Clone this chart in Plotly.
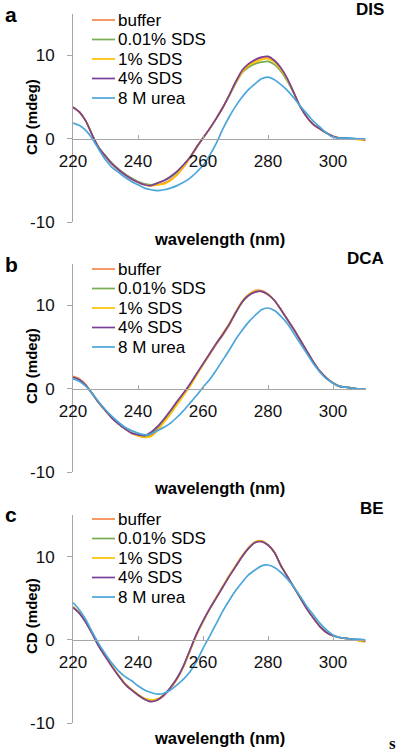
import plotly.graph_objects as go

# ---------------- data ----------------
wavelength = list(range(220, 312, 2))  # nm, 220..310

series_names = ["buffer", "0.01% SDS", "1% SDS", "4% SDS", "8 M urea"]
series_colors = ["#F4874B", "#77AC52", "#FFC000", "#7B3F98", "#4BA6DB"]

# Panel a: DIS
dis_buffer = [3.8, 3.2, 2.1, 0.4, -1.1, -2.1, -3.0, -3.7, -4.3, -4.8, -5.2, -5.5, -5.6, -5.5, -5.3, -4.9,
              -4.3, -3.4, -2.3, -1.1, 0.1, 1.2, 2.4, 3.7, 5.2, 6.8, 8.1, 8.9, 9.4, 9.7, 9.8, 9.3,
              8.4, 7.1, 5.5, 3.8, 2.6, 1.7, 1.2, 0.7, 0.3, 0.1, 0.1, 0.0, 0.0, -0.1]
dis_sds001 = [3.8, 3.2, 2.1, 0.4, -1.1, -2.0, -2.9, -3.6, -4.2, -4.7, -5.1, -5.4, -5.5, -5.3, -5.0, -4.6,
              -4.0, -3.2, -2.2, -1.0, 0.1, 1.2, 2.4, 3.7, 5.1, 6.6, 7.9, 8.6, 9.0, 9.2, 9.3, 8.9,
              8.1, 6.9, 5.4, 3.8, 2.6, 1.7, 1.2, 0.7, 0.3, 0.1, 0.1, 0.0, 0.0, -0.1]
dis_sds1 = [3.8, 3.2, 2.1, 0.4, -1.1, -2.1, -3.0, -3.7, -4.3, -4.8, -5.2, -5.5, -5.6, -5.5, -5.4, -5.0,
            -4.3, -3.3, -2.2, -1.0, 0.1, 1.2, 2.4, 3.7, 5.2, 6.7, 8.0, 8.8, 9.2, 9.5, 9.6, 9.2,
            8.3, 7.1, 5.5, 3.8, 2.6, 1.7, 1.2, 0.7, 0.3, 0.1, 0.0, 0.0, -0.1, -0.2]
dis_sds4 = [3.8, 3.2, 2.1, 0.4, -1.1, -2.1, -3.0, -3.7, -4.3, -4.8, -5.2, -5.5, -5.6, -5.3, -5.0, -4.5,
            -3.9, -3.1, -2.2, -1.0, 0.1, 1.2, 2.4, 3.7, 5.2, 6.8, 8.2, 9.0, 9.5, 9.8, 9.9, 9.4,
            8.5, 7.2, 5.5, 3.8, 2.6, 1.7, 1.2, 0.7, 0.3, 0.1, 0.1, 0.0, 0.0, -0.1]
dis_urea = [1.9, 1.6, 1.0, 0.0, -1.3, -2.5, -3.4, -4.0, -4.6, -5.1, -5.5, -5.9, -6.1, -6.2, -6.1, -5.9,
            -5.6, -5.2, -4.7, -4.0, -3.2, -2.0, -0.6, 1.1, 2.6, 3.9, 5.0, 5.9, 6.6, 7.2, 7.4, 7.1,
            6.5, 5.8, 4.9, 3.9, 3.0, 2.1, 1.4, 0.7, 0.2, 0.1, 0.1, 0.1, 0.0, 0.0]

# Panel b: DCA
dca_buffer = [1.5, 1.2, 0.5, -0.6, -1.7, -2.6, -3.5, -4.2, -4.8, -5.3, -5.6, -5.8, -5.6, -4.8, -3.8, -2.8,
              -1.7, -0.7, 0.4, 1.7, 2.9, 4.1, 5.3, 6.4, 7.6, 9.1, 10.4, 11.3, 11.8, 11.8, 11.4, 10.6,
              9.5, 8.3, 7.1, 5.8, 4.5, 3.2, 2.1, 1.3, 0.7, 0.3, 0.2, 0.1, 0.0, 0.0]
dca_sds001 = [1.4, 1.1, 0.4, -0.6, -1.7, -2.6, -3.5, -4.2, -4.8, -5.3, -5.5, -5.7, -5.4, -4.6, -3.7, -2.7,
              -1.6, -0.6, 0.5, 1.8, 3.0, 4.2, 5.4, 6.5, 7.7, 9.1, 10.4, 11.2, 11.6, 11.7, 11.3, 10.6,
              9.5, 8.3, 7.1, 5.8, 4.5, 3.2, 2.1, 1.3, 0.7, 0.3, 0.2, 0.1, 0.0, 0.0]
dca_sds1 = [1.4, 1.1, 0.4, -0.6, -1.7, -2.6, -3.5, -4.2, -4.8, -5.3, -5.6, -5.8, -5.7, -5.0, -4.0, -3.0,
            -1.9, -0.8, 0.3, 1.6, 2.9, 4.2, 5.4, 6.6, 7.8, 9.2, 10.5, 11.3, 11.7, 11.7, 11.3, 10.6,
            9.5, 8.3, 7.1, 5.8, 4.5, 3.2, 2.1, 1.3, 0.7, 0.3, 0.2, 0.1, 0.0, 0.0]
dca_sds4 = [1.4, 1.1, 0.4, -0.6, -1.7, -2.6, -3.5, -4.2, -4.8, -5.3, -5.5, -5.6, -5.2, -4.5, -3.6, -2.6,
            -1.5, -0.5, 0.6, 1.8, 3.0, 4.2, 5.4, 6.5, 7.7, 9.1, 10.4, 11.2, 11.6, 11.7, 11.3, 10.6,
            9.5, 8.3, 7.1, 5.8, 4.5, 3.2, 2.1, 1.3, 0.7, 0.3, 0.2, 0.1, 0.0, 0.0]
dca_urea = [1.2, 0.9, 0.3, -0.6, -1.6, -2.5, -3.3, -4.0, -4.6, -5.0, -5.3, -5.5, -5.4, -5.0, -4.6, -4.1,
            -3.4, -2.6, -1.7, -0.8, 0.2, 1.1, 2.2, 3.4, 4.6, 5.9, 7.0, 8.0, 8.8, 9.5, 9.7, 9.4,
            8.7, 7.8, 6.6, 5.4, 4.2, 3.0, 2.0, 1.2, 0.7, 0.3, 0.2, 0.1, 0.0, 0.0]

# Panel c: BE
be_buffer = [3.9, 3.2, 2.1, 0.7, -0.8, -2.0, -3.2, -4.3, -5.3, -6.0, -6.6, -7.1, -7.3, -7.2, -6.7, -5.8,
             -4.7, -3.2, -1.3, 0.6, 2.2, 3.7, 5.0, 6.3, 7.6, 8.8, 10.0, 11.0, 11.7, 11.8, 11.4, 10.5,
             8.9, 7.6, 6.3, 5.0, 3.7, 2.6, 1.6, 0.9, 0.5, 0.3, 0.2, 0.1, -0.1, -0.2]
be_sds001 = [3.9, 3.2, 2.1, 0.7, -0.8, -2.0, -3.2, -4.3, -5.3, -6.0, -6.6, -7.1, -7.3, -7.1, -6.6, -5.7,
             -4.6, -3.1, -1.2, 0.7, 2.2, 3.7, 5.0, 6.3, 7.6, 8.8, 10.0, 11.0, 11.7, 11.9, 11.4, 10.5,
             8.9, 7.6, 6.3, 5.0, 3.7, 2.6, 1.6, 0.9, 0.5, 0.3, 0.2, 0.1, 0.0, 0.0]
be_sds1 = [4.0, 3.3, 2.2, 0.8, -0.7, -1.9, -3.1, -4.2, -5.2, -5.9, -6.5, -7.0, -7.2, -7.1, -6.6, -5.8,
           -4.7, -3.2, -1.3, 0.6, 2.2, 3.7, 5.1, 6.4, 7.7, 8.9, 10.1, 11.1, 11.8, 11.9, 11.4, 10.5,
           8.9, 7.6, 6.3, 5.0, 3.7, 2.6, 1.6, 0.9, 0.5, 0.3, 0.2, 0.1, -0.1, -0.2]
be_sds4 = [3.9, 3.2, 2.1, 0.7, -0.8, -2.0, -3.2, -4.3, -5.3, -6.0, -6.6, -7.1, -7.4, -7.2, -6.6, -5.7,
           -4.6, -3.1, -1.2, 0.7, 2.3, 3.7, 5.0, 6.3, 7.6, 8.8, 10.0, 11.0, 11.7, 11.8, 11.4, 10.5,
           8.9, 7.6, 6.3, 5.0, 3.7, 2.6, 1.6, 0.9, 0.5, 0.3, 0.2, 0.1, 0.0, -0.1]
be_urea = [4.5, 3.6, 2.4, 0.9, -0.5, -1.7, -2.8, -3.7, -4.4, -4.9, -5.5, -6.0, -6.3, -6.5, -6.4, -6.0,
           -5.4, -4.7, -3.8, -2.6, -1.0, 0.4, 1.9, 3.4, 4.7, 5.9, 6.9, 7.8, 8.4, 8.9, 9.0, 8.7,
           8.1, 7.3, 6.3, 5.2, 4.0, 3.0, 2.0, 1.2, 0.6, 0.3, 0.2, 0.1, 0.1, 0.0]

panel_letters = ["a", "b", "c"]
panel_titles = ["DIS", "DCA", "BE"]
panel_series = [
    [dis_buffer, dis_sds001, dis_sds1, dis_sds4, dis_urea],
    [dca_buffer, dca_sds001, dca_sds1, dca_sds4, dca_urea],
    [be_buffer, be_sds001, be_sds1, be_sds4, be_urea],
]
x_ticks = [220, 240, 260, 280, 300]
y_ticks = [-10, 0, 10]
y_tick_labels = ["-10", "0", "10"]
x_range = [220, 310]
y_range = [-10, 15]
x_title = "wavelength (nm)"
y_title = "CD (mdeg)"

# ---------------- layout geometry (pixels) ----------------
W, H = 400, 755
plot_left_px, plot_right_px = 73, 365.5
panel_px = [(13.8, 222.3), (263.8, 472.3), (515.0, 723.3)]  # (top, bottom)
panel_off = [0, 249, 499]
FONT = "Liberation Sans, Arial, sans-serif"
AXIS_COLOR = "#A6A6A6"
TEXT_COLOR = "#111111"

def fy(px):
    return 1 - px / H

def fx(px):
    return px / W

fig = go.Figure()
layout = dict(
    width=W, height=H,
    margin=dict(l=0, r=0, t=0, b=0),
    paper_bgcolor="white", plot_bgcolor="white",
    font=dict(family=FONT, size=17, color=TEXT_COLOR),
    showlegend=False,
    annotations=[], shapes=[],
)

for i in range(3):
    k = "" if i == 0 else str(i + 1)
    xa, ya = "x" + k, "y" + k
    top, bot = panel_px[i]
    off = panel_off[i]
    dom_y = [fy(bot), fy(top)]
    zero_pos = dom_y[0] + (0 - y_range[0]) / (y_range[1] - y_range[0]) * (dom_y[1] - dom_y[0])

    for j, (name, color, vals) in enumerate(zip(series_names, series_colors, panel_series[i])):
        fig.add_trace(go.Scatter(
            x=wavelength, y=vals, mode="lines", name=name,
            line=dict(color=color, width=1.7, shape="spline", smoothing=0.6),
            xaxis=xa, yaxis=ya, showlegend=False,
        ))
        # legend entry (sample line + label)
        row_y = fy(20 + 19.5 * j + off)
        layout["shapes"].append(dict(
            type="line", xref="paper", yref="paper",
            x0=fx(92), x1=fx(115), y0=row_y, y1=row_y,
            line=dict(color=color, width=1.7)))
        layout["annotations"].append(dict(
            text=name, x=fx(116), y=row_y, xref="paper", yref="paper",
            showarrow=False, xanchor="left", yanchor="middle",
            font=dict(family=FONT, size=17, color="#000000")))

    layout["xaxis" + k] = dict(
        domain=[fx(plot_left_px), fx(plot_right_px)],
        range=x_range, anchor="free", position=zero_pos,
        tickvals=x_ticks, ticks="inside", ticklen=4, tickcolor=AXIS_COLOR,
        showline=True, linecolor=AXIS_COLOR, linewidth=1,
        showgrid=False, zeroline=False, automargin=False,
        tickfont=dict(size=17, color=TEXT_COLOR), ticklabelstandoff=7,
    )
    layout["yaxis" + k] = dict(
        domain=dom_y, range=y_range, anchor=xa,
        tickvals=y_ticks, ticktext=y_tick_labels, ticks="outside", ticklen=5, tickcolor=AXIS_COLOR,
        showline=True, linecolor=AXIS_COLOR, linewidth=1,
        showgrid=False, zeroline=False, automargin=False,
        tickfont=dict(size=17, color=TEXT_COLOR), ticklabelstandoff=9,
    )
    layout["annotations"] += [
        dict(text="<b>%s</b>" % panel_letters[i], x=fx(11), y=fy(15 + off),
             xref="paper", yref="paper", showarrow=False,
             font=dict(size=21, color="#000000", family=FONT), xanchor="center", yanchor="middle"),
        dict(text="<b>%s</b>" % panel_titles[i], x=fx(386), y=fy(10 + off),
             xref="paper", yref="paper", showarrow=False,
             font=dict(size=17, color="#000000", family=FONT), xanchor="right", yanchor="middle"),
        dict(text="<b>%s</b>" % y_title, x=fx(31), y=fy(117 + off),
             xref="paper", yref="paper", showarrow=False, textangle=-90,
             font=dict(size=15, color="#000000", family=FONT), xanchor="center", yanchor="middle"),
        dict(text="<b>%s</b>" % x_title, x=fx(219), y=fy(239 + off),
             xref="paper", yref="paper", showarrow=False,
             font=dict(size=16.5, color="#000000", family=FONT), xanchor="center", yanchor="middle"),
    ]

layout["annotations"].append(
    dict(text="<b>s</b>", x=fx(392), y=fy(743), xref="paper", yref="paper", showarrow=False,
         font=dict(size=17, color="#000000", family="Liberation Serif, serif"),
         xanchor="center", yanchor="middle"))

fig.update_layout(**layout)
fig.write_html(
    "out.html",
    config={"displayModeBar": False},
    post_script="document.body.style.margin='0px';document.body.style.overflow='hidden';",
)
